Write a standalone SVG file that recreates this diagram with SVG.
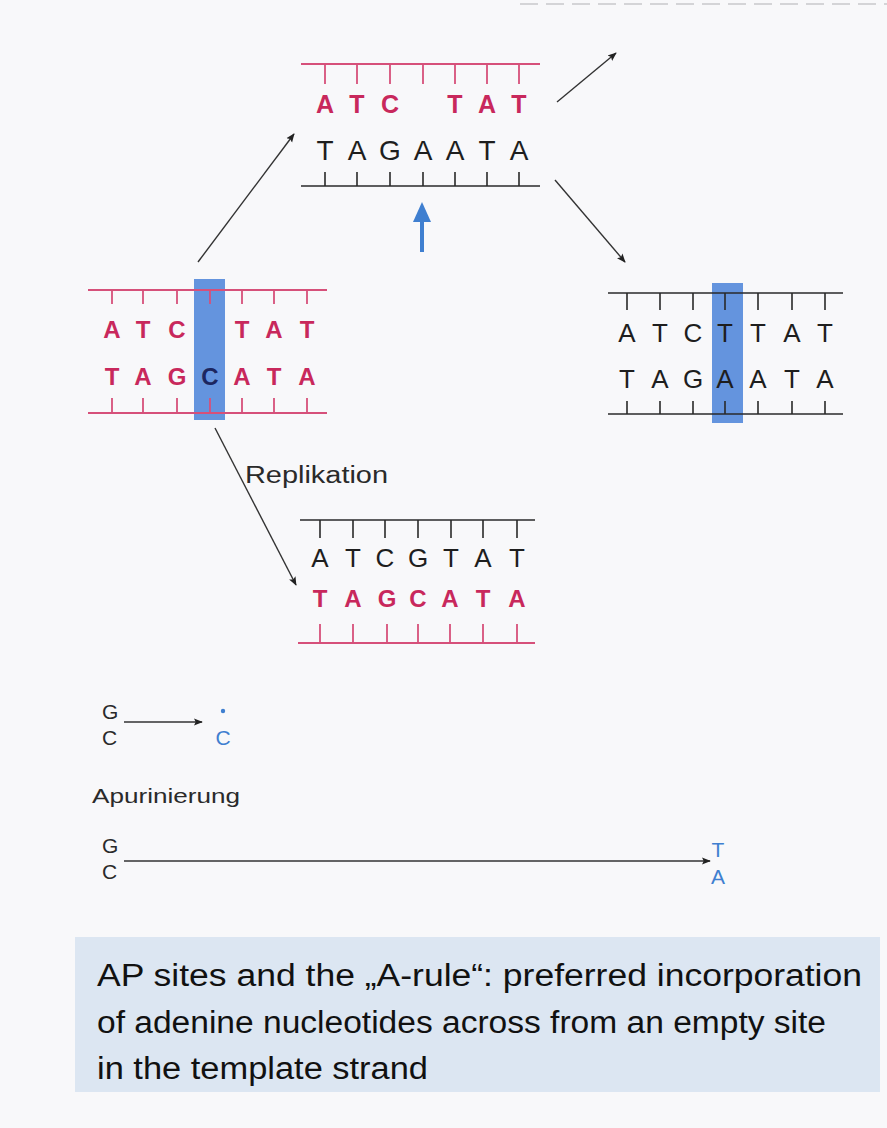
<svg xmlns="http://www.w3.org/2000/svg" width="887" height="1128" viewBox="0 0 887 1128">
<defs>
<marker id="ah" viewBox="0 0 10 10" refX="9" refY="5" markerWidth="9" markerHeight="9" orient="auto" markerUnits="userSpaceOnUse"><path d="M0,1 L10,5 L0,9 L2,5 z" fill="#222"/></marker>
<style>
.bg{fill:#f8f8fa}
.rl{stroke:#d6507a;stroke-width:1.8;fill:none}
.bl{stroke:#2a2a2a;stroke-width:1.6;fill:none}
.rt{font-family:"Liberation Sans",Arial,sans-serif;font-weight:bold;fill:#c8285c;text-anchor:middle}
.bt{font-family:"Liberation Sans",Arial,sans-serif;fill:#1e1e1e;text-anchor:middle}
.hl{fill:#5388da;opacity:0.9}
.arr{stroke:#333;stroke-width:1.4;fill:none}
.lbl{font-family:"Liberation Sans",Arial,sans-serif;fill:#2a2a2a}
.blu{fill:#3f7fd0;font-family:"Liberation Sans",Arial,sans-serif;text-anchor:middle}
.cap{font-family:"Liberation Sans",Arial,sans-serif;font-size:31px;fill:#111}
</style>
</defs>
<rect class="bg" x="0" y="0" width="887" height="1128"/>
<line x1="520" y1="4" x2="887" y2="4" stroke="#c8c8cc" stroke-width="1.5" stroke-dasharray="18 8"/>

<!-- Node: top structure -->
<g id="node-top">
<line class="rl" x1="301" y1="64" x2="540" y2="64"/>
<path class="rl" d="M325,64V84 M357,64V84 M390,64V84 M423,64V84 M455,64V84 M487,64V84 M519,64V84"/>
<g class="rt" font-size="25">
<text x="325" y="113">A</text><text x="357" y="113">T</text><text x="390" y="113">C</text>
<text x="455" y="113">T</text><text x="487" y="113">A</text><text x="519" y="113">T</text>
</g>
<g class="bt" font-size="28">
<text x="325" y="160">T</text><text x="357" y="160">A</text><text x="390" y="160">G</text><text x="423" y="160">A</text>
<text x="455" y="160">A</text><text x="487" y="160">T</text><text x="519" y="160">A</text>
</g>
<line class="bl" x1="301" y1="186" x2="540" y2="186"/>
<path class="bl" d="M325,172V186 M357,172V186 M390,172V186 M423,172V186 M455,172V186 M487,172V186 M519,172V186"/>
</g>

<!-- Node: left structure -->
<g id="node-left">
<rect class="hl" x="194" y="279" width="31" height="141"/>
<line class="rl" x1="88" y1="290" x2="327" y2="290"/>
<path class="rl" d="M112,290V304 M143,290V304 M177,290V304 M210,290V304 M242,290V304 M274,290V304 M307,290V304"/>
<g class="rt" font-size="24">
<text x="112" y="338">A</text><text x="143" y="338">T</text><text x="177" y="338">C</text>
<text x="242" y="338">T</text><text x="274" y="338">A</text><text x="307" y="338">T</text>
<text x="112" y="385">T</text><text x="143" y="385">A</text><text x="177" y="385">G</text>
<text x="210" y="385" fill="#1c2660">C</text>
<text x="242" y="385">A</text><text x="274" y="385">T</text><text x="307" y="385">A</text>
</g>
<line class="rl" x1="88" y1="413" x2="327" y2="413"/>
<path class="rl" d="M112,398V413 M143,398V413 M177,398V413 M210,398V413 M242,398V413 M274,398V413 M307,398V413"/>
</g>

<!-- Node: right structure -->
<g id="node-right">
<rect class="hl" x="712" y="283" width="31" height="140"/>
<line class="bl" x1="608" y1="293" x2="843" y2="293"/>
<path class="bl" d="M627,293V310 M660,293V310 M693,293V310 M725,293V310 M758,293V310 M792,293V310 M825,293V310"/>
<g class="bt" font-size="26">
<text x="627" y="342">A</text><text x="660" y="342">T</text><text x="693" y="342">C</text><text x="725" y="342">T</text>
<text x="758" y="342">T</text><text x="792" y="342">A</text><text x="825" y="342">T</text>
<text x="627" y="388">T</text><text x="660" y="388">A</text><text x="693" y="388">G</text><text x="725" y="388">A</text>
<text x="758" y="388">A</text><text x="792" y="388">T</text><text x="825" y="388">A</text>
</g>
<line class="bl" x1="608" y1="414" x2="843" y2="414"/>
<path class="bl" d="M627,401V414 M660,401V414 M693,401V414 M725,401V414 M758,401V414 M792,401V414 M825,401V414"/>
</g>

<!-- Node: replication product -->
<g id="node-bottom">
<text class="lbl" x="245" y="483" font-size="23" textLength="143" lengthAdjust="spacingAndGlyphs">Replikation</text>
<line class="bl" x1="300" y1="520" x2="535" y2="520"/>
<path class="bl" d="M320,520V538 M353,520V538 M385,520V538 M418,520V538 M451,520V538 M483,520V538 M517,520V538"/>
<g class="bt" font-size="26">
<text x="320" y="567">A</text><text x="353" y="567">T</text><text x="385" y="567">C</text><text x="418" y="567">G</text>
<text x="451" y="567">T</text><text x="483" y="567">A</text><text x="517" y="567">T</text>
</g>
<g class="rt" font-size="24">
<text x="320" y="607">T</text><text x="353" y="607">A</text><text x="387" y="607">G</text><text x="418" y="607">C</text>
<text x="450" y="607">A</text><text x="483" y="607">T</text><text x="517" y="607">A</text>
</g>
<line class="rl" x1="298" y1="643" x2="535" y2="643"/>
<path class="rl" d="M320,624V643 M353,624V643 M387,624V643 M418,624V643 M450,624V643 M483,624V643 M517,624V643"/>
</g>

<!-- Node: depurination scheme -->
<g id="node-gc1">
<text class="lbl" x="102" y="719" font-size="21">G</text>
<text class="lbl" x="102" y="745" font-size="21">C</text>
<circle cx="223" cy="711" r="2.2" fill="#3f7fd0"/>
<text class="blu" x="223" y="745" font-size="21">C</text>
</g>
<g id="node-label">
<text class="lbl" x="92" y="803" font-size="21" textLength="148" lengthAdjust="spacingAndGlyphs">Apurinierung</text>
</g>
<g id="node-gc2">
<text class="lbl" x="102" y="853" font-size="21">G</text>
<text class="lbl" x="102" y="879" font-size="21">C</text>
<text class="blu" x="718" y="857" font-size="21">T</text>
<text class="blu" x="718" y="884" font-size="21">A</text>
</g>

<!-- Connectors -->
<g id="connectors">
<line class="arr" x1="198" y1="262" x2="294" y2="134" marker-end="url(#ah)"/>
<line class="arr" x1="557" y1="102" x2="616" y2="53" marker-end="url(#ah)"/>
<line class="arr" x1="555" y1="180" x2="625" y2="262" marker-end="url(#ah)"/>
<line class="arr" x1="215" y1="428" x2="296" y2="585" marker-end="url(#ah)"/>
<line class="arr" x1="124" y1="722" x2="202" y2="722" marker-end="url(#ah)"/>
<line class="arr" x1="124" y1="861" x2="710" y2="861" marker-end="url(#ah)"/>
<path d="M422,252V218" stroke="#3f7fd0" stroke-width="4" fill="none"/>
<path d="M422,202 L431,222 L413,222 z" fill="#3f7fd0"/>
</g>

<!-- Caption -->
<g id="caption">
<rect x="75" y="937" width="805" height="155" fill="#dce6f2"/>
<text class="cap" x="97" y="986" textLength="765" lengthAdjust="spacingAndGlyphs">AP sites and the „A-rule“: preferred incorporation</text>
<text class="cap" x="97" y="1033" textLength="729" lengthAdjust="spacingAndGlyphs">of adenine nucleotides across from an empty site</text>
<text class="cap" x="97" y="1079" textLength="331" lengthAdjust="spacingAndGlyphs">in the template strand</text>
</g>
</svg>
